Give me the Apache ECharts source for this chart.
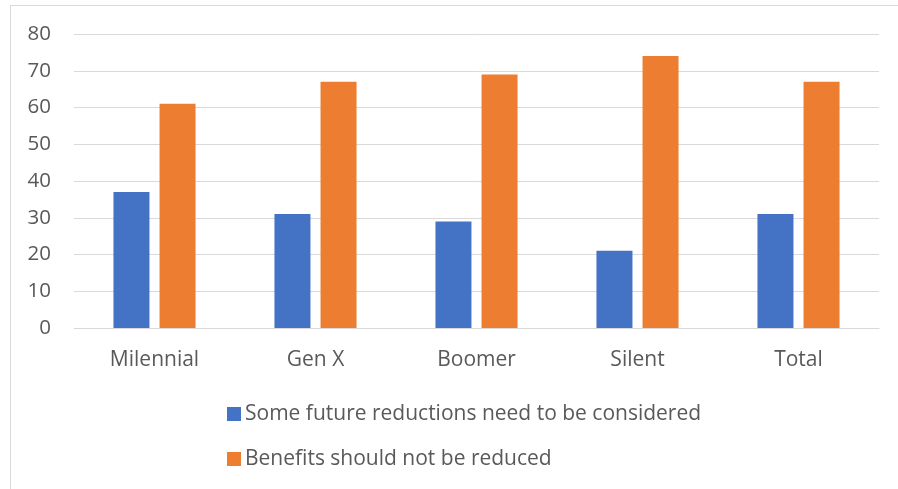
<!DOCTYPE html>
<html>
<head>
<meta charset="utf-8">
<script src="https://cdn.jsdelivr.net/npm/echarts@6/dist/echarts.min.js"></script>
<style>
  html, body { margin: 0; padding: 0; background: #fff; }
  #chart { width: 898px; height: 489px; }
</style>
</head>
<body>
<div id="chart"></div>
<script>
// Generations and their survey shares (%)
const categories = ['Milennial', 'Gen X', 'Boomer', 'Silent', 'Total'];
const reductionsConsidered = [37, 31, 29, 21, 31];
const notReduced = [61, 67, 69, 74, 67];
const seriesNames = ['Some future reductions need to be considered', 'Benefits should not be reduced'];

const font = 'Open Sans, Liberation Sans, sans-serif';
const textColor = '#595959';

const chart = echarts.init(document.getElementById('chart'));
chart.setOption({
  animation: false,
  graphic: [{
    type: 'rect',
    shape: { x: 10.5, y: 5.5, width: 920, height: 520 },
    style: { fill: 'none', stroke: '#d9d9d9', lineWidth: 1 },
    silent: true
  }],
  grid: { left: 74, right: 19, top: 34, bottom: 161, containLabel: false },
  legend: {
    orient: 'vertical',
    left: 222,
    top: 395,
    itemWidth: 14,
    itemHeight: 14,
    itemGap: 17,
    icon: 'rect',
    textStyle: { fontFamily: font, fontSize: 21, color: textColor, padding: [0, 0, 0, -1], lineHeight: 28 },
    data: seriesNames
  },
  xAxis: {
    type: 'category',
    data: categories,
    axisLine: { lineStyle: { color: '#d9d9d9', width: 1 } },
    axisTick: { show: false },
    axisLabel: { fontFamily: font, fontSize: 21, color: textColor, margin: 22 }
  },
  yAxis: {
    type: 'value',
    min: 0,
    max: 80,
    interval: 10,
    axisLine: { show: false },
    axisTick: { show: false },
    splitLine: { lineStyle: { color: '#d9d9d9', width: 1 } },
    axisLabel: { fontFamily: font, fontSize: 20.5, color: textColor, margin: 23 }
  },
  series: [
    {
      name: seriesNames[0],
      type: 'bar',
      data: reductionsConsidered,
      barWidth: 36,
      barGap: '28%',
      itemStyle: { color: '#4472c4' }
    },
    {
      name: seriesNames[1],
      type: 'bar',
      data: notReduced,
      barWidth: 36,
      barGap: '28%',
      itemStyle: { color: '#ed7d31' }
    }
  ]
});
</script>
</body>
</html>
